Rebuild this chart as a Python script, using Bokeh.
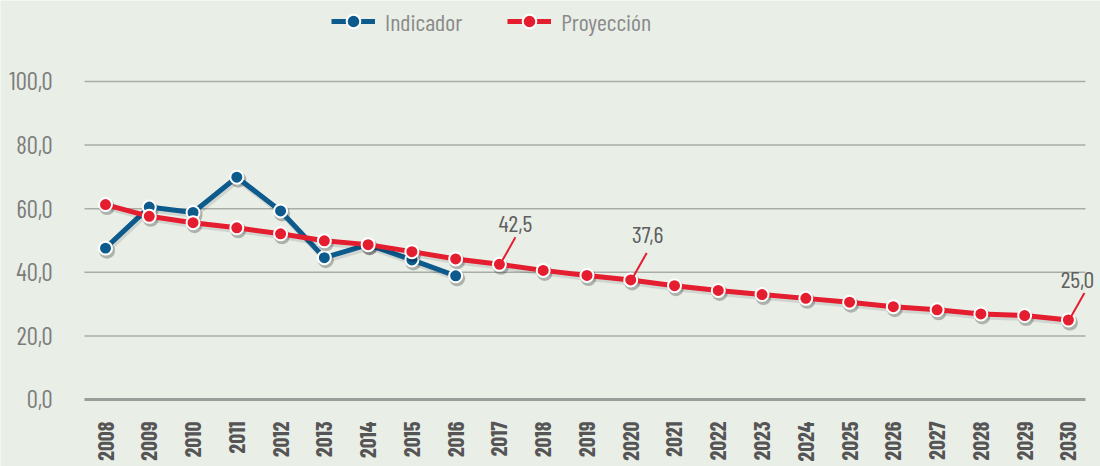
import math
from bokeh.plotting import figure
from bokeh.models import ColumnDataSource, Legend, LegendItem, LabelSet
from bokeh.transform import dodge
from bokeh.core.properties import value
from bokeh.embed import file_html
from bokeh.resources import INLINE

# ---------------- data ----------------
years = list(range(2008, 2031))
year_labels = [str(y) for y in years]
ind_years = years[:9]
indicador = [47.6, 60.5, 58.8, 69.9, 59.3, 44.6, 48.7, 43.9, 38.9]
proyeccion = [61.3, 57.6, 55.6, 54.0, 52.1, 49.9, 48.7, 46.5, 44.2, 42.5,
              40.6, 39.0, 37.6, 35.8, 34.3, 33.0, 31.8, 30.6, 29.2, 28.2,
              26.9, 26.4, 25.0]
y_ticks = [0, 20, 40, 60, 80, 100]
y_tick_labels = ["0,0", "20,0", "40,0", "60,0", "80,0", "100,0"]
annot_years = [2017, 2020, 2030]
annot_labels = ["42,5", "37,6", "25,0"]

# ---------------- style ----------------
BG = "#E9EEE7"
BLUE = "#0D5A8C"
RED = "#E41D2F"
FONT = "Barlow Condensed"
PX_X = 43.77   # px per year
PX_Y = 3.18    # px per unit
X_START, X_END = 2005.601, 2030.733     # whole canvas is the frame
Y_START, Y_END = -21.07, 125.47
GRID_START, GRID_END = 2007.52, 2030.39
annot_dx = [16, 17, 9]
annot_dy = [32, 37, 32]

p = figure(width=1100, height=466, output_backend="svg", toolbar_location=None,
           x_range=(X_START, X_END), y_range=(Y_START, Y_END),
           x_axis_location=None, y_axis_location=None, min_border=0)
p.background_fill_color = BG
p.border_fill_color = BG
p.outline_line_color = None
p.grid.grid_line_color = None

# horizontal grid lines
n = len(y_ticks) - 1
grid_src = ColumnDataSource(dict(x0=[GRID_START] * n, x1=[GRID_END] * n, y=y_ticks[1:]))
p.segment("x0", "y", "x1", "y", source=grid_src, line_color="#A9ADA7", line_width=1.5)
p.segment(x0=[GRID_START], y0=[y_ticks[0]], x1=[GRID_END], y1=[y_ticks[0]],
          line_color="#9A9D99", line_width=3)

# y tick labels
p.text(x=[GRID_START - 32 / PX_X] * len(y_ticks), y=y_ticks, text=y_tick_labels,
       text_font=value(FONT), text_font_size="25px", text_color="#7D7D7D",
       text_align="right", text_baseline="middle")

# x tick labels (vertical)
p.text(x=years, y=[-22 / PX_Y] * len(years), text=year_labels, angle=math.pi / 2,
       text_font=value(FONT), text_font_size="22px", text_font_style="bold",
       text_color="#555555", text_align="right", text_baseline="middle")

# data sources
src_i = ColumnDataSource(dict(x=ind_years, y=indicador))
src_p = ColumnDataSource(dict(x=years, y=proyeccion))

# blue series
p.line(dodge("x", 1.5 / PX_X), dodge("y", -2.5 / PX_Y), source=src_i,
       line_color="black", line_alpha=0.10, line_width=6)
p.scatter(dodge("x", 1.5 / PX_X), dodge("y", -2.5 / PX_Y), source=src_i,
          size=16, fill_color="black", fill_alpha=0.25, line_color=None)
bl = p.line("x", "y", source=src_i, line_color=BLUE, line_width=5)
bm = p.scatter("x", "y", source=src_i, size=13, fill_color=BLUE,
               line_color="white", line_width=2)

# red series
p.line(dodge("x", 1.5 / PX_X), dodge("y", -2.5 / PX_Y), source=src_p,
       line_color="black", line_alpha=0.10, line_width=6)
p.scatter(dodge("x", 1.5 / PX_X), dodge("y", -2.5 / PX_Y), source=src_p,
          size=16, fill_color="black", fill_alpha=0.25, line_color=None)
rl = p.line("x", "y", source=src_p, line_color=RED, line_width=5)
rm = p.scatter("x", "y", source=src_p, size=13, fill_color=RED,
               line_color="white", line_width=2)

# annotations
annot_vals = [proyeccion[years.index(y)] for y in annot_years]
src_a = ColumnDataSource(dict(
    x=annot_years, y=annot_vals, text=annot_labels,
    x0=[y + 3 / PX_X for y in annot_years], y0=[v + 4 / PX_Y for v in annot_vals],
    x1=[y + 16 / PX_X for y in annot_years], y1=[v + 27 / PX_Y for v in annot_vals],
    dx=annot_dx, dy=annot_dy))
p.segment("x0", "y0", "x1", "y1", source=src_a, line_color=RED, line_width=2)
p.add_layout(LabelSet(x="x", y="y", text="text", source=src_a,
                      x_offset="dx", y_offset="dy", text_align="center",
                      text_baseline="alphabetic", text_font=value(FONT),
                      text_font_size="24px", text_color="#5F5F5F"))

# legend
legend = Legend(items=[LegendItem(label="Indicador", renderers=[bl, bm]),
                       LegendItem(label="Proyección", renderers=[rl, rm])],
                orientation="horizontal", location=(331, 428),
                glyph_width=44, glyph_height=34, label_standoff=10, spacing=45,
                padding=0, margin=0, border_line_color=None,
                background_fill_alpha=0, label_text_font=FONT,
                label_text_font_size="24px", label_text_color="#8A8A8A")
p.add_layout(legend)

html = file_html(p, INLINE)
html = html.replace("<body>", '<body style="background:%s">' % BG, 1)
open("out.html", "w").write(html)
